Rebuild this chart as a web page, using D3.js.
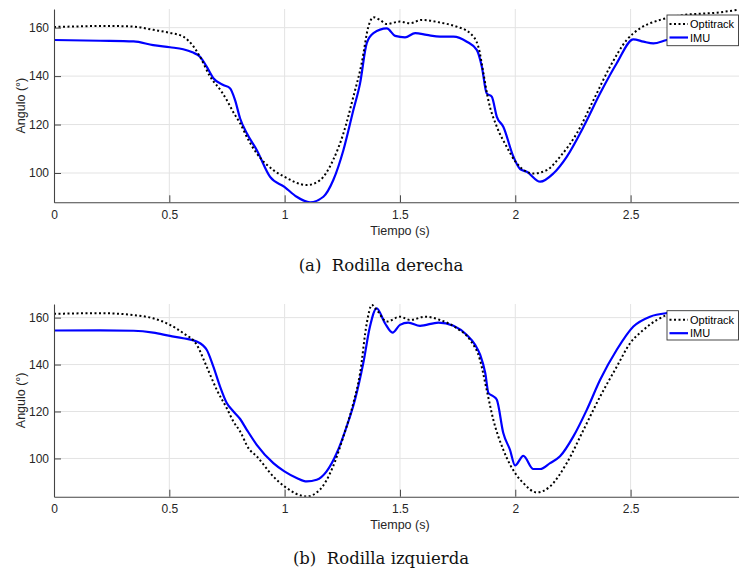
<!DOCTYPE html>
<html>
<head>
<meta charset="utf-8">
<script src="https://cdn.jsdelivr.net/npm/d3@7"></script>
<style>
  body { margin: 0; background: #fff; }
  svg { display: block; }
  .tick text { font-family: "Liberation Sans", Arial, sans-serif; font-size: 12px; fill: #262626; }
</style>
</head>
<body>
<div id="vis"></div>
<script>
// knee angle plots, Optitrack vs IMU

const FRAME_WIDTH = 739;
const FRAME_HEIGHT = 572;

// shared ticks and labels
const X_TICKS = [0, 0.5, 1, 1.5, 2, 2.5];
const Y_TICKS = [100, 120, 140, 160];
const SERIES_NAMES = ["Optitrack", "IMU"];
const CAPTIONS = ["(a)  Rodilla derecha", "(b)  Rodilla izquierda"];
const X_LABEL = "Tiempo (s)";
const Y_LABEL = "Angulo (°)";

// (a) right knee - Optitrack
const T_OPTI_A = [0, 0.1, 0.2, 0.3, 0.35, 0.43, 0.5, 0.56, 0.6, 0.633, 0.677, 0.727, 0.749, 0.78, 0.807, 0.843, 0.879, 0.951, 1.0, 1.096, 1.153, 1.21, 1.255, 1.298, 1.334, 1.363, 1.385, 1.413, 1.443, 1.5, 1.544, 1.594, 1.674, 1.746, 1.804, 1.84, 1.862, 1.883, 1.92, 1.963, 2.0, 2.02, 2.078, 2.137, 2.194, 2.267, 2.339, 2.411, 2.483, 2.541, 2.628, 2.729, 2.874, 2.97];
const A_OPTI_A = [160.3, 160.5, 160.7, 160.6, 160.4, 159.1, 157.9, 156.3, 152.8, 148, 139.8, 133.5, 130.1, 124.7, 120.5, 113.6, 108.1, 101.2, 98.4, 95, 97, 105.3, 116.4, 131.5, 145.3, 160.4, 164.3, 163.2, 161.5, 162.5, 161.8, 163.2, 162.1, 160.4, 157.7, 152.1, 141.1, 130.1, 119.1, 110.8, 104.8, 102.6, 99.8, 101.2, 106.7, 116.4, 130.1, 143.9, 154.9, 159.7, 163.2, 165.2, 166.2, 167.4];

// (a) right knee - IMU
const T_IMU_A = [0, 0.2, 0.345, 0.43, 0.503, 0.56, 0.6, 0.633, 0.662, 0.691, 0.734, 0.763, 0.785, 0.807, 0.836, 0.879, 0.937, 0.999, 1.052, 1.11, 1.168, 1.211, 1.255, 1.298, 1.327, 1.356, 1.385, 1.443, 1.479, 1.522, 1.566, 1.616, 1.674, 1.732, 1.79, 1.833, 1.855, 1.876, 1.898, 1.92, 1.948, 1.992, 2.021, 2.05, 2.108, 2.165, 2.223, 2.296, 2.368, 2.44, 2.512, 2.556, 2.599, 2.657, 2.72, 2.8];
const A_IMU_A = [154.9, 154.6, 154.3, 152.8, 151.9, 151.1, 149.8, 148, 143.9, 139.1, 136.3, 135, 130.1, 122.5, 116.4, 109.5, 98.4, 94.3, 90.2, 87.9, 90.2, 97.1, 109.5, 126, 137, 153.6, 157.7, 159.7, 156.6, 156, 157.7, 157, 156.3, 156.3, 154.2, 150.8, 143.9, 132.9, 131.5, 123.2, 119.1, 106.7, 101.6, 100.5, 96.4, 99.8, 106.7, 119.1, 132.9, 145.3, 155.2, 154.2, 153.5, 154.9, 156, 156.5];

// (b) left knee - Optitrack
const T_OPTI_B = [0, 0.2, 0.345, 0.43, 0.503, 0.56, 0.619, 0.662, 0.706, 0.749, 0.778, 0.807, 0.843, 0.879, 0.951, 0.999, 1.096, 1.153, 1.21, 1.255, 1.298, 1.327, 1.356, 1.378, 1.399, 1.443, 1.5, 1.544, 1.609, 1.674, 1.746, 1.804, 1.847, 1.876, 1.905, 1.948, 2.006, 2.035, 2.093, 2.151, 2.223, 2.296, 2.368, 2.44, 2.498, 2.556, 2.614, 2.657, 2.7];
const A_OPTI_B = [161.6, 161.9, 161.1, 159.7, 156.9, 153.4, 148.4, 139.1, 129.2, 121.4, 115.7, 111.5, 104.4, 100.9, 92.3, 88.1, 83.8, 86.7, 96.6, 109.4, 123.6, 136.3, 157.6, 165.4, 163.3, 158.3, 160.4, 159, 160.4, 159, 155.5, 150.5, 142, 129.2, 116.4, 103.7, 92.8, 89.5, 85.5, 88.1, 98, 112.2, 126.4, 139.1, 149.1, 154.8, 159, 161.1, 162];

// (b) left knee - IMU
const T_IMU_B = [0, 0.2, 0.345, 0.43, 0.503, 0.56, 0.619, 0.662, 0.691, 0.72, 0.749, 0.778, 0.807, 0.836, 0.879, 0.951, 0.999, 1.052, 1.096, 1.139, 1.182, 1.226, 1.269, 1.305, 1.341, 1.37, 1.399, 1.435, 1.468, 1.5, 1.536, 1.587, 1.667, 1.732, 1.79, 1.826, 1.848, 1.87, 1.884, 1.906, 1.92, 1.948, 1.977, 1.999, 2.035, 2.078, 2.108, 2.151, 2.194, 2.252, 2.31, 2.368, 2.44, 2.512, 2.584, 2.657, 2.7];
const A_IMU_B = [154.5, 154.6, 154.4, 153.6, 152.2, 151.2, 149.8, 146.3, 139.1, 130.6, 123.6, 120, 116.8, 112.2, 105.8, 98, 94.5, 91.7, 90.2, 90.9, 94.5, 102.3, 113.6, 125, 140.6, 156.2, 164, 157.6, 153.6, 156.9, 157.9, 156.5, 157.9, 156.5, 152.6, 148.4, 144.1, 136.3, 127.8, 126.4, 125, 110.8, 103.7, 97, 101.1, 95.5, 95.5, 98, 100.9, 109.4, 120.7, 133.5, 146.3, 156.2, 160.4, 161.9, 162.2];

const SVG = d3.select("#vis")
  .append("svg")
  .attr("width", FRAME_WIDTH)
  .attr("height", FRAME_HEIGHT);

const X_SCALE = d3.scaleLinear().domain([0, 2.97]).range([54, 739]);

const PANELS = [
  { top: 9, bottom: 202.3, yDomain: [87.9, 167.7],
    opti: [T_OPTI_A, A_OPTI_A], imu: [T_IMU_A, A_IMU_A],
    tickY: 215, xLabelY: 231, captionY: 265,
    legendY: 15, legendH: 30.7, caption: CAPTIONS[0] },
  { top: 304, bottom: 496.7, yDomain: [83.7, 165.8],
    opti: [T_OPTI_B, A_OPTI_B], imu: [T_IMU_B, A_IMU_B],
    tickY: 509, xLabelY: 525, captionY: 558,
    legendY: 310.7, legendH: 29.3, caption: CAPTIONS[1] }
];

PANELS.forEach((p, i) => {
  const yScale = d3.scaleLinear().domain(p.yDomain).range([p.bottom, p.top]);
  const g = SVG.append("g");

  // clip
  g.append("clipPath").attr("id", "clip" + i)
    .append("rect")
    .attr("x", X_SCALE.range()[0]).attr("y", p.top)
    .attr("width", X_SCALE.range()[1] - X_SCALE.range()[0])
    .attr("height", p.bottom - p.top);

  // grid
  g.selectAll(".gx").data(X_TICKS.slice(1)).enter().append("line")
    .attr("x1", d => X_SCALE(d)).attr("x2", d => X_SCALE(d))
    .attr("y1", p.top).attr("y2", p.bottom)
    .attr("stroke", "#e3e3e3").attr("stroke-width", 1);
  g.selectAll(".gy").data(Y_TICKS).enter().append("line")
    .attr("x1", X_SCALE.range()[0]).attr("x2", X_SCALE.range()[1])
    .attr("y1", d => yScale(d)).attr("y2", d => yScale(d))
    .attr("stroke", "#e3e3e3").attr("stroke-width", 1);

  // lines
  const line = d3.line()
    .x(d => X_SCALE(d[0]))
    .y(d => yScale(d[1]))
    .curve(d3.curveMonotoneX);
  const optiPts = d3.zip(p.opti[0], p.opti[1]);
  const imuPts = d3.zip(p.imu[0], p.imu[1]);

  g.append("path").datum(imuPts)
    .attr("clip-path", "url(#clip" + i + ")")
    .attr("d", line).attr("fill", "none")
    .attr("stroke", "#0000ff").attr("stroke-width", 2.2);
  g.append("path").datum(optiPts)
    .attr("clip-path", "url(#clip" + i + ")")
    .attr("d", line).attr("fill", "none")
    .attr("stroke", "#000").attr("stroke-width", 2)
    .attr("stroke-dasharray", "2 2.5");

  // axes
  const xAxis = g.append("g")
    .attr("transform", "translate(0," + p.bottom + ")")
    .call(d3.axisBottom(X_SCALE).tickValues(X_TICKS).tickFormat(d3.format("")).tickSize(-7).tickSizeOuter(0).tickPadding(8));
  const yAxis = g.append("g")
    .attr("transform", "translate(" + X_SCALE.range()[0] + ",0)")
    .call(d3.axisLeft(yScale).tickValues(Y_TICKS).tickSize(-7).tickSizeOuter(0).tickPadding(5));
  [xAxis, yAxis].forEach(a => {
    a.select(".domain").attr("stroke", "#444").attr("stroke-width", 1.1);
    a.selectAll(".tick line").attr("stroke", "#444");
    a.attr("font-family", null).attr("font-size", null);
  });

  // axis labels
  g.append("text")
    .attr("x", 400).attr("y", p.xLabelY)
    .attr("text-anchor", "middle").attr("dominant-baseline", "central")
    .attr("font-family", "Liberation Sans, Arial, sans-serif")
    .attr("font-size", 12.5).attr("fill", "#262626")
    .text(X_LABEL);
  g.append("text")
    .attr("transform", "translate(21," + ((p.top + p.bottom) / 2) + ") rotate(-90)")
    .attr("text-anchor", "middle").attr("dominant-baseline", "central")
    .attr("font-family", "Liberation Sans, Arial, sans-serif")
    .attr("font-size", 12.5).attr("fill", "#262626")
    .text(Y_LABEL);

  // legend
  const lg = g.append("g");
  lg.append("rect")
    .attr("x", 667).attr("y", p.legendY)
    .attr("width", 71.5).attr("height", p.legendH)
    .attr("fill", "#fff").attr("stroke", "#333").attr("stroke-width", 0.9);
  const rowY = [p.legendY + 9, p.legendY + 22.5];
  SERIES_NAMES.forEach((name, k) => {
    lg.append("line")
      .attr("x1", 669.5).attr("x2", 688)
      .attr("y1", rowY[k]).attr("y2", rowY[k])
      .attr("stroke", k === 0 ? "#000" : "#0000ff")
      .attr("stroke-width", k === 0 ? 2 : 2.2)
      .attr("stroke-dasharray", k === 0 ? "2 2.5" : null);
    lg.append("text")
      .attr("x", 690).attr("y", rowY[k])
      .attr("dominant-baseline", "central")
      .attr("font-family", "Liberation Sans, Arial, sans-serif")
      .attr("font-size", 11).attr("fill", "#000")
      .text(name);
  });

  // caption
  g.append("text")
    .attr("x", 381).attr("y", p.captionY)
    .attr("text-anchor", "middle").attr("dominant-baseline", "central")
    .attr("font-family", "DejaVu Serif, serif")
    .attr("font-size", 16.5).attr("fill", "#111")
    .style("white-space", "pre")
    .text(p.caption);
});
</script>
</body>
</html>
